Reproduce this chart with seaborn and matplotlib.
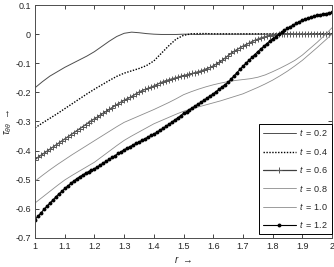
import numpy as np
import matplotlib
matplotlib.use("Agg")
import matplotlib.pyplot as plt
import seaborn as sns

sns.set_style("ticks")
plt.rcParams["font.family"] = ["Liberation Sans", "DejaVu Sans"]
plt.rcParams["mathtext.fontset"] = "custom"
plt.rcParams["mathtext.rm"] = "Liberation Sans"
plt.rcParams["mathtext.it"] = "Liberation Sans:italic"
plt.rcParams["axes.unicode_minus"] = False

# radius grids
r_fine = np.linspace(1, 2, 101)
r_coarse = np.linspace(1, 2, 41)

labels = ["0.2", "0.4", "0.6", "0.8", "1.0", "1.2"]

tau_02 = [-0.184, -0.163, -0.144, -0.129, -0.114, -0.101, -0.088, -0.075, -0.060, -0.042,
          -0.024, -0.008, 0.003, 0.007, 0.005, 0.002, 0.000, -0.001, -0.001, -0.001,
          0.000, 0.000, -0.001, 0.000, 0.000, 0.000, 0.000, 0.000, 0.000, 0.000,
          0.000, 0.000, 0.000, 0.000, 0.000, 0.000, 0.000, 0.000, 0.000, 0.000,
          0.000]
tau_04 = [-0.322, -0.305, -0.289, -0.273, -0.256, -0.239, -0.222, -0.205, -0.189, -0.174,
          -0.159, -0.145, -0.134, -0.126, -0.118, -0.108, -0.092, -0.066, -0.040, -0.017,
          -0.004, 0.001, 0.002, 0.002, 0.001, 0.001, 0.001, 0.001, 0.001, 0.001,
          0.001, 0.001, 0.001, 0.001, 0.001, 0.001, 0.001, 0.001, 0.001, 0.001,
          0.001]
tau_06 = [-0.431, -0.423, -0.416, -0.409, -0.402, -0.395, -0.388, -0.381, -0.374, -0.367,
          -0.360, -0.353, -0.346, -0.339, -0.332, -0.325, -0.318, -0.311, -0.304, -0.297,
          -0.291, -0.285, -0.278, -0.271, -0.265, -0.258, -0.252, -0.245, -0.239, -0.233,
          -0.227, -0.222, -0.217, -0.211, -0.205, -0.199, -0.194, -0.190, -0.186, -0.182,
          -0.178, -0.173, -0.168, -0.164, -0.160, -0.157, -0.154, -0.151, -0.148, -0.145,
          -0.142, -0.140, -0.137, -0.135, -0.132, -0.129, -0.126, -0.122, -0.118, -0.114,
          -0.109, -0.103, -0.097, -0.090, -0.082, -0.074, -0.066, -0.059, -0.053, -0.047,
          -0.041, -0.036, -0.031, -0.026, -0.021, -0.017, -0.013, -0.010, -0.007, -0.005,
          -0.003, -0.002, -0.001, 0.000, 0.001, 0.001, 0.001, 0.000, 0.000, 0.000,
          0.000, -0.001, 0.000, 0.000, 0.001, 0.000, 0.000, 0.000, -0.001, 0.000,
          0.000]
tau_08 = [-0.505, -0.485, -0.466, -0.448, -0.431, -0.414, -0.398, -0.382, -0.366, -0.350,
          -0.334, -0.318, -0.303, -0.292, -0.281, -0.270, -0.259, -0.247, -0.235, -0.222,
          -0.208, -0.198, -0.189, -0.181, -0.174, -0.168, -0.163, -0.159, -0.156, -0.153,
          -0.148, -0.140, -0.129, -0.117, -0.104, -0.090, -0.072, -0.050, -0.028, -0.004,
          0.022]
tau_10 = [-0.580, -0.560, -0.540, -0.520, -0.501, -0.485, -0.470, -0.455, -0.440, -0.421,
          -0.402, -0.383, -0.365, -0.350, -0.336, -0.322, -0.308, -0.297, -0.286, -0.275,
          -0.265, -0.257, -0.250, -0.243, -0.236, -0.229, -0.221, -0.213, -0.205, -0.194,
          -0.183, -0.171, -0.158, -0.143, -0.127, -0.109, -0.090, -0.068, -0.046, -0.023,
          0.000]
tau_12 = [-0.637, -0.625, -0.614, -0.602, -0.591, -0.580, -0.570, -0.559, -0.549, -0.540,
          -0.530, -0.522, -0.513, -0.505, -0.497, -0.490, -0.484, -0.478, -0.472, -0.467,
          -0.462, -0.456, -0.449, -0.443, -0.436, -0.430, -0.423, -0.417, -0.410, -0.404,
          -0.397, -0.392, -0.386, -0.381, -0.375, -0.370, -0.365, -0.359, -0.354, -0.348,
          -0.343, -0.337, -0.330, -0.324, -0.317, -0.310, -0.303, -0.295, -0.288, -0.280,
          -0.272, -0.266, -0.259, -0.253, -0.246, -0.240, -0.233, -0.226, -0.219, -0.212,
          -0.205, -0.197, -0.189, -0.181, -0.173, -0.165, -0.154, -0.143, -0.132, -0.121,
          -0.110, -0.100, -0.090, -0.080, -0.070, -0.060, -0.051, -0.042, -0.033, -0.024,
          -0.015, -0.008, -0.001, 0.006, 0.013, 0.020, 0.026, 0.032, 0.037, 0.043,
          0.048, 0.052, 0.055, 0.059, 0.062, 0.065, 0.067, 0.069, 0.071, 0.073,
          0.075]


def lab(s):
    return r"$t\;=\;%s$" % s


fig = plt.figure(figsize=(3.34, 2.67), dpi=100)
ax = fig.add_axes([0.105, 0.109, 0.889, 0.872])

sns.lineplot(x=r_coarse, y=tau_02, ax=ax, color="0.3", lw=0.7, label=lab(labels[0]))
sns.lineplot(x=r_coarse, y=tau_04, ax=ax, color="black", lw=1.0, ls=(0, (1, 1.1)),
             label=lab(labels[1]))
sns.lineplot(x=r_fine, y=tau_06, ax=ax, color="0.25", lw=0.9, marker="+", ms=4,
             mew=0.7, mec="0.35", label=lab(labels[2]))
sns.lineplot(x=r_coarse, y=tau_08, ax=ax, color="0.55", lw=0.6, label=lab(labels[3]))
sns.lineplot(x=r_coarse, y=tau_10, ax=ax, color="0.55", lw=0.6, label=lab(labels[4]))
sns.lineplot(x=r_fine, y=tau_12, ax=ax, color="black", lw=0.8, marker="o", ms=2.8,
             mew=0, label=lab(labels[5]))

ax.set_xlim(1, 2)
ax.set_ylim(-0.7, 0.1)
ax.set_xticks(np.arange(1, 2.01, 0.1))
ax.set_yticks(np.arange(-0.7, 0.11, 0.1))
ax.xaxis.set_major_formatter(matplotlib.ticker.FormatStrFormatter("%g"))
ax.yaxis.set_major_formatter(
    matplotlib.ticker.FuncFormatter(lambda v, p: "%g" % (round(v, 2) + 0.0)))
ax.tick_params(direction="in", length=3, width=0.6, labelsize=6.5, top=True, right=True,
               colors="0.15", pad=3)
for s in ax.spines.values():
    s.set_linewidth(0.7)
    s.set_color("0.3")

ax.set_xlabel("$r$  →", fontsize=7, labelpad=2)
ax.set_ylabel(r"$\tau_{\theta\theta}$  →", fontsize=7)
ax.yaxis.set_label_coords(-0.072, 0.5)

leg = ax.legend(loc="lower right", bbox_to_anchor=(1.0, 0.017), borderaxespad=0,
                fontsize=6.5, handlelength=3.6, labelspacing=0.82, fancybox=False,
                framealpha=1, edgecolor="black", borderpad=0.4, handletextpad=0.4)
leg.get_frame().set_linewidth(0.7)

fig.savefig("out.png", dpi=100)
